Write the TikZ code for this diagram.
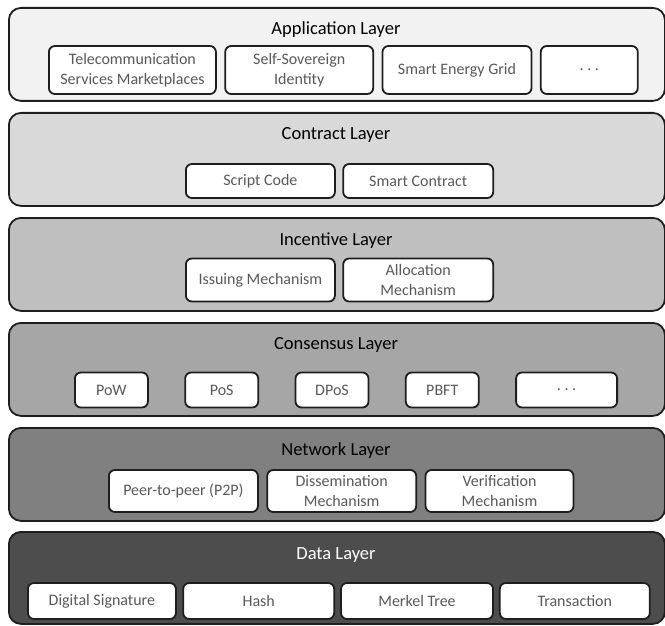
\documentclass[tikz,border=0pt]{standalone}
\usepackage{fontspec}
\setmainfont{Carlito}
\usepackage{xcolor}
\usetikzlibrary{positioning}

\definecolor{edgecol}{HTML}{1E1E1E}
\definecolor{itemtext}{HTML}{595959}
\definecolor{appfill}{HTML}{F2F2F2}
\definecolor{contractfill}{HTML}{D9D9D9}
\definecolor{incentivefill}{HTML}{BFBFBF}
\definecolor{consensusfill}{HTML}{A6A6A6}
\definecolor{networkfill}{HTML}{808080}
\definecolor{datafill}{HTML}{4D4D4D}

\tikzset{
	layer/.style={draw=edgecol,line width=1.8pt,rounded corners=12pt,inner sep=0pt,
		minimum width=656pt,minimum height=93pt,anchor=north west},
	layertitle/.style={font=\fontsize{18.5}{22}\selectfont},
	item/.style={draw=edgecol,fill=white,line width=1.8pt,rounded corners=6pt,inner sep=0pt,
		text=itemtext,align=center,anchor=west,font=\fontsize{16}{20}\selectfont}
}

\begin{document}
\begin{tikzpicture}[x=1pt,y=-1pt,node distance=7.5pt]
	\useasboundingbox (0,0) rectangle (665,626);
	% layers
	\node[layer,fill=appfill]       (app)       at (8,7)   {};
	\node[layer,fill=contractfill]  (contract)  at (8,112) {};
	\node[layer,fill=incentivefill] (incentive) at (8,217) {};
	\node[layer,fill=consensusfill] (consensus) at (8,322) {};
	\node[layer,fill=networkfill]   (network)   at (8,427) {};
	\node[layer,fill=datafill,minimum height=92pt] (data) at (8,531) {};
	
	\node[layertitle] (apptitle)       at (336,30)  {Application Layer};
	\node[layertitle] (contracttitle)  at (336,135) {Contract Layer};
	\node[layertitle] (incentivetitle) at (336,241) {Incentive Layer};
	\node[layertitle] (consensustitle) at (336,345) {Consensus Layer};
	\node[layertitle] (networktitle)   at (336,451) {Network Layer};
	\node[layertitle,text=white] (datatitle) at (336,555) {Data Layer};
	
	% application layer
	\node[item,minimum width=167pt,minimum height=48pt] (tele) at (48,70) {Telecommunication\\Services Marketplaces};
	\node[item,minimum width=148pt,minimum height=48pt] (ssi)  [right=of tele] {Self-Sovereign\\Identity};
	\node[item,minimum width=149pt,minimum height=48pt] (grid) [right=of ssi] {Smart Energy Grid};
	\node[item,minimum width=97pt,minimum height=48pt]  (appmore) [right=of grid] {.\ .\ .};
	
	% contract layer
	\node[item,minimum width=149pt,minimum height=34pt] (script) at (185,181) {Script Code};
	\node[item,minimum width=150pt,minimum height=34pt] (smart) [right=6.5pt of script] {Smart Contract};
	
	% incentive layer
	\node[item,minimum width=149pt,minimum height=43pt] (issuing) at (185,280) {Issuing Mechanism};
	\node[item,minimum width=150pt,minimum height=43pt] (alloc) [right=6.5pt of issuing] {Allocation\\Mechanism};
	
	% consensus layer
	\node[item,minimum width=73pt,minimum height=35pt] (pow) at (74,390) {PoW};
	\node[item,minimum width=73pt,minimum height=35pt] (pos)  [right=35.5pt of pow] {PoS};
	\node[item,minimum width=73pt,minimum height=35pt] (dpos) [right=35.5pt of pos] {DPoS};
	\node[item,minimum width=73pt,minimum height=35pt] (pbft) [right=35.5pt of dpos] {PBFT};
	\node[item,minimum width=101pt,minimum height=35pt] (consmore) [right=35.5pt of pbft] {.\ .\ .};
	
	% network layer
	\node[item,minimum width=149pt,minimum height=42pt] (p2p) at (108,491) {Peer-to-peer (P2P)};
	\node[item,minimum width=149pt,minimum height=42pt] (dissem) [right=of p2p] {Dissemination\\Mechanism};
	\node[item,minimum width=148pt,minimum height=42pt] (verif)  [right=of dissem] {Verification\\Mechanism};
	
	% data layer
	\node[item,minimum width=148pt,minimum height=36pt] (sig) at (27,601) {Digital Signature};
	\node[item,minimum width=151pt,minimum height=36pt] (hash)   [right=5.5pt of sig] {Hash};
	\node[item,minimum width=152pt,minimum height=36pt] (merkel) [right=5pt of hash] {Merkel Tree};
	\node[item,minimum width=150pt,minimum height=36pt] (trans)  [right=5pt of merkel] {Transaction};
\end{tikzpicture}
\end{document}
